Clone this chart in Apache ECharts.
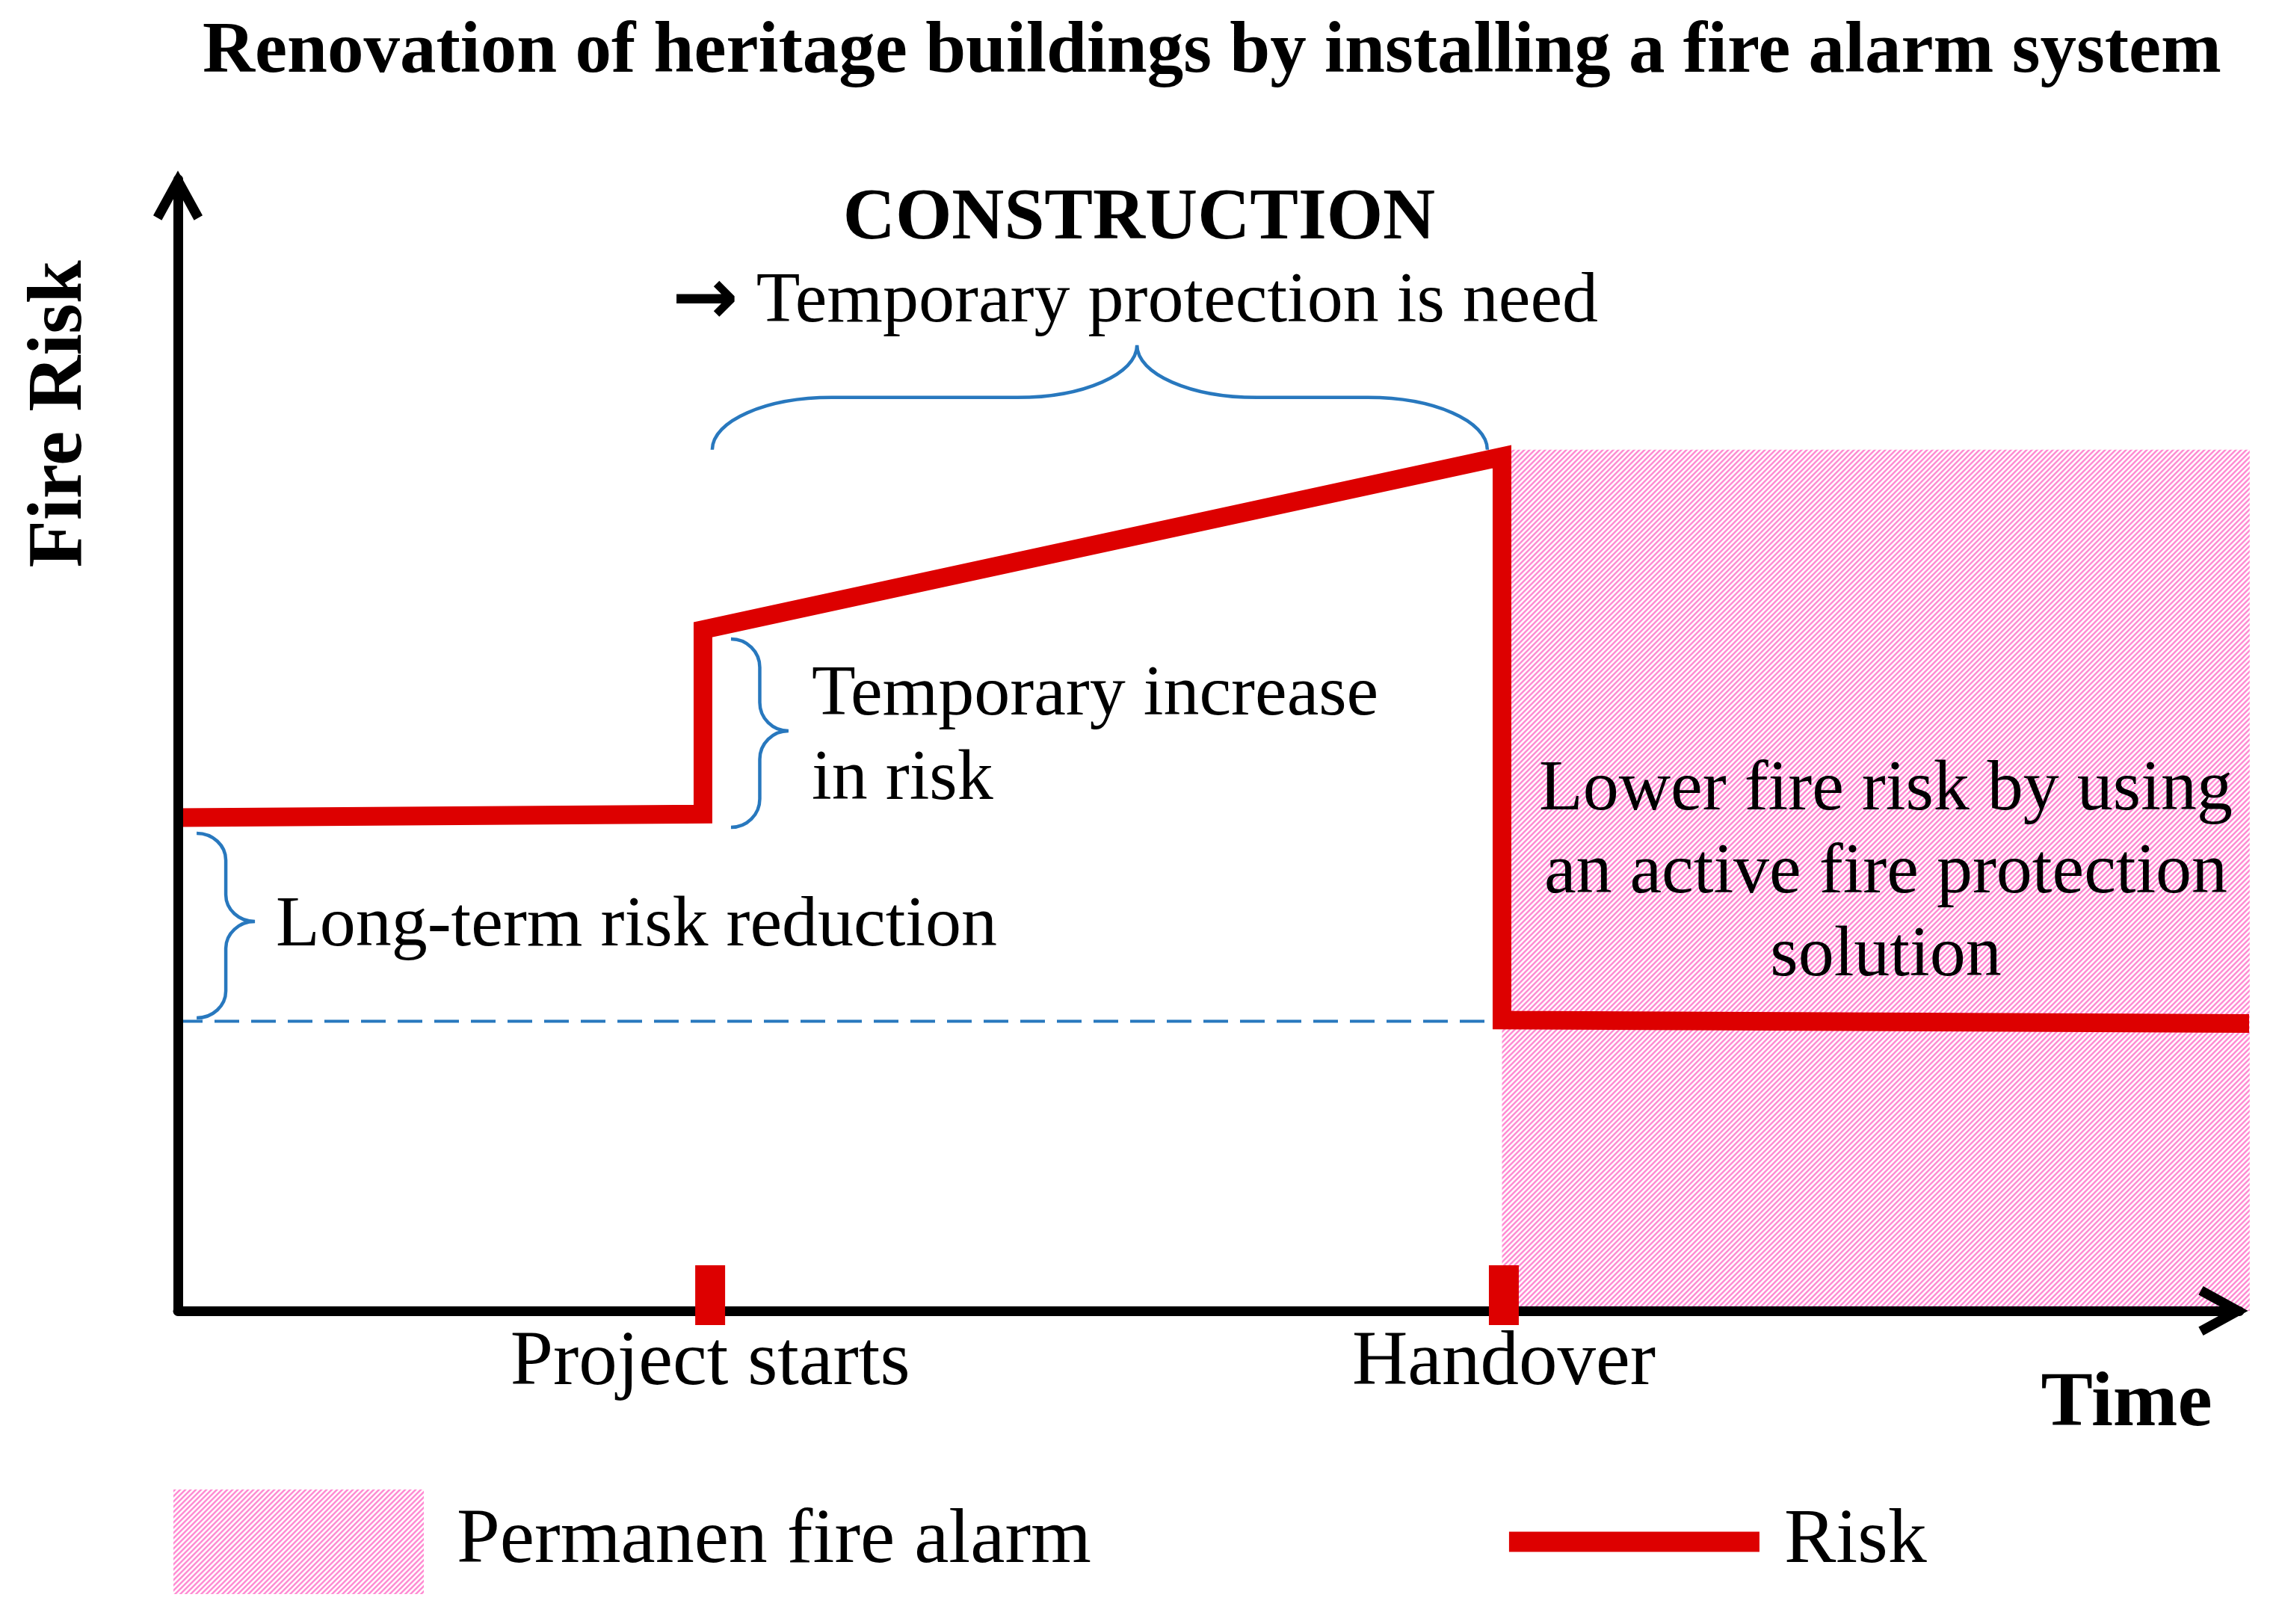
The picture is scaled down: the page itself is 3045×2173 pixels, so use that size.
<!DOCTYPE html>
<html>
<head>
<meta charset="utf-8">
<script src="https://cdn.jsdelivr.net/npm/echarts@6/dist/echarts.min.js"></script>
<style>
html,body{margin:0;padding:0;background:#ffffff;}
#chart{width:3045px;height:2173px;}
</style>
</head>
<body>
<div id="chart"></div>
<script>
// ---------------- data ----------------
const riskTime  = [0, 25.47, 25.47, 64.23, 64.23, 100.5];
const riskLevel = [43.6, 43.9, 60.2, 75.5, 25.7, 25.4];
const baselineTime  = [0, 64.23];
const baselineLevel = [25.6, 25.6];
const alarmTime  = [64.23, 100.5];
const alarmLevel = [0, 76.1];
const milestoneTime   = [25.82, 64.32];
const milestoneLabels = ['Project starts', 'Handover'];
const braceFrom  = [[25.92, 76.1], [26.83, 59.38], [0.91, 42.21]];
const braceTo    = [[63.52, 76.1], [26.83, 42.73], [0.91, 25.89]];
const braceTipAt = [0.548, 0.488, 0.478];
const seriesNames = ['Permanen fire alarm', 'Risk'];

// ---------------- style ----------------
const RED = '#DD0000';
const BLUE = '#2878BE';
const SERIF = '"Liberation Serif", "Times New Roman", serif';
const braceDepth = [140, 77, 78];
const braceRound = [160, 38, 36];
const CHEVRON = 'path://M33,0 L66,60 L54.6,66.3 L33,27 L11.4,66.3 L0,60 Z';
const LEGEND_LINE = 'path://M0,0 L0.01,0 L0,0.01 Z M0,56.5 L335,56.5 L335,83.5 L0,83.5 Z M335,140 L334.99,140 L335,139.99 Z';

function makeHatch() {
  const n = 7;
  const c = document.createElement('canvas');
  c.width = n; c.height = n;
  const ctx = c.getContext('2d');
  const img = ctx.createImageData(n, n);
  const shades = [[255,160,218],[255,135,209],[255,140,211],[255,196,234],[255,252,254],[255,252,254],[255,240,248]];
  for (let y = 0; y < n; y++) {
    for (let x = 0; x < n; x++) {
      const s = shades[(x + y) % n];
      const o = (y * n + x) * 4;
      img.data[o] = s[0]; img.data[o+1] = s[1]; img.data[o+2] = s[2]; img.data[o+3] = 255;
    }
  }
  ctx.putImageData(img, 0, 0);
  return { image: c, repeat: 'repeat' };
}
const hatch = makeHatch();

function bracePath(p1, p2, t, d, r) {
  const dx = p2[0] - p1[0], dy = p2[1] - p1[1];
  const L = Math.hypot(dx, dy);
  const ux = dx / L, uy = dy / L;
  const vx = uy, vy = -ux;
  const P = (u, v) => (p1[0] + ux * u + vx * v).toFixed(2) + ',' + (p1[1] + uy * u + vy * v).toFixed(2);
  const h = d / 2, ut = L * t, k = 0.5523;
  const C = (a, b, c) => ' C' + P(a[0], a[1]) + ' ' + P(b[0], b[1]) + ' ' + P(c[0], c[1]);
  const Lt = (a) => ' L' + P(a[0], a[1]);
  let s = 'M' + P(0, 0);
  s += C([0, h * k], [r * (1 - k), h], [r, h]);
  s += Lt([ut - r, h]);
  s += C([ut - r + r * k, h], [ut, d - h * k], [ut, d]);
  s += C([ut, d - h * k], [ut + r * (1 - k), h], [ut + r, h]);
  s += Lt([L - r, h]);
  s += C([L - r + r * k, h], [L, h * k], [L, 0]);
  return s;
}

const chart = echarts.init(document.getElementById('chart'), null, { renderer: 'canvas', width: 3045, height: 2173 });

const option = {
  backgroundColor: '#ffffff',
  animation: false,
  title: {
    text: 'Renovation of heritage buildings by installing a fire alarm system',
    left: 271, top: 22, padding: 0,
    textStyle: { fontFamily: SERIF, fontWeight: 'bold', fontSize: 97, lineHeight: 97, color: '#000' }
  },
  legend: {
    left: 232, top: 1993, padding: 0,
    itemWidth: 335, itemHeight: 140, itemGap: 559,
    selectedMode: false,
    textStyle: { fontFamily: SERIF, fontSize: 104, color: '#000' },
    data: [
      { name: seriesNames[0], icon: 'rect', itemStyle: { color: hatch }, textStyle: { padding: [24, 0, 0, 39] } },
      { name: seriesNames[1], icon: LEGEND_LINE, itemStyle: { color: RED, borderWidth: 0 }, textStyle: { padding: [24, 0, 0, 28] } }
    ]
  },
  grid: { left: 238, right: 49, top: 240, bottom: 419, containLabel: false, outerBoundsMode: 'none', show: false },
  xAxis: {
    type: 'value', min: 0, max: 100, z: 5,
    axisLine: { show: true, onZero: false, lineStyle: { color: '#000', width: 13 },
      symbol: ['none', CHEVRON], symbolSize: [66, 67], symbolOffset: [0, -21.5] },
    axisTick: { show: false },
    splitLine: { show: false },
    axisLabel: {
      show: true, customValues: milestoneTime,
      formatter: v => { const i = milestoneTime.indexOf(v); return i >= 0 ? milestoneLabels[i] : ''; },
      margin: 19, fontSize: 103, lineHeight: 103, fontFamily: SERIF, color: '#000'
    },
    name: 'Time', nameLocation: 'end', nameGap: -151,
    nameTextStyle: { fontSize: 104, lineHeight: 104, fontWeight: 'bold', fontFamily: SERIF, color: '#000',
      align: 'center', verticalAlign: 'top', padding: [74, 0, 0, 0] }
  },
  yAxis: {
    type: 'value', min: 0, max: 100, z: 5,
    axisLine: { show: true, onZero: false, lineStyle: { color: '#000', width: 13 },
      symbol: ['none', CHEVRON], symbolSize: [66, 67], symbolOffset: [0, -21.5] },
    axisTick: { show: false },
    axisLabel: { show: false },
    splitLine: { show: false },
    name: 'Fire Risk', nameLocation: 'end', nameGap: -314, nameRotate: 90,
    nameTextStyle: { fontSize: 104, lineHeight: 104, fontWeight: 'bold', fontFamily: SERIF, color: '#000',
      align: 'center', verticalAlign: 'bottom', padding: [0, 0, 105, 0] }
  },
  series: [
    {
      name: seriesNames[0], type: 'custom', z: 1, silent: true, clip: false,
      itemStyle: { color: hatch },
      encode: { x: [0, 1], y: [2, 3] },
      data: [[alarmTime[0], alarmTime[1], alarmLevel[0], alarmLevel[1]]],
      renderItem: function (params, api) {
        const a = api.coord([api.value(0), api.value(3)]);
        const b = api.coord([api.value(1), api.value(2)]);
        return { type: 'rect', shape: { x: a[0], y: a[1], width: b[0] - a[0], height: b[1] - a[1] },
          style: { fill: hatch } };
      }
    },
    {
      name: 'baseline', type: 'line', z: 3, silent: true, symbol: 'none',
      data: baselineTime.map((t, i) => [t, baselineLevel[i]]),
      lineStyle: { color: BLUE, width: 4, type: [33, 16] }
    },
    {
      name: seriesNames[1], type: 'line', z: 4, silent: true, symbol: 'none', clip: false,
      data: riskTime.map((t, i) => [t, riskLevel[i]]),
      itemStyle: { color: RED },
      lineStyle: { color: RED, width: 25, join: 'miter', cap: 'butt' }
    },
    {
      name: 'milestones', type: 'scatter', z: 6, silent: true, clip: false,
      symbol: 'rect', symbolSize: [40, 80], symbolOffset: [0, -21],
      itemStyle: { color: RED, opacity: 1 },
      data: milestoneTime.map(t => [t, 0])
    },
    {
      name: 'braces', type: 'custom', z: 3, silent: true, clip: false,
      encode: { x: [0, 2], y: [1, 3] },
      data: braceFrom.map((f, i) => [f[0], f[1], braceTo[i][0], braceTo[i][1], braceTipAt[i]]),
      renderItem: function (params, api) {
        const i = params.dataIndex;
        const p1 = api.coord([api.value(0), api.value(1)]);
        const p2 = api.coord([api.value(2), api.value(3)]);
        return { type: 'path',
          shape: { pathData: bracePath(p1, p2, api.value(4), braceDepth[i], braceRound[i]) },
          style: { fill: 'none', stroke: BLUE, lineWidth: 4.5 } };
      }
    }
  ],
  graphic: [
    { type: 'text', z: 10, silent: true, style: { text: 'CONSTRUCTION', x: 1524, y: 294, align: 'center', verticalAlign: 'middle',
      fontFamily: SERIF, fontWeight: 'bold', fontSize: 97, fill: '#000' } },
    { type: 'text', z: 10, silent: true, style: { text: '{a|\u2192} Temporary protection is need', x: 899, y: 405, align: 'left', verticalAlign: 'middle',
      fontFamily: SERIF, fontSize: 96, fill: '#000',
      rich: { a: { fontFamily: '"DejaVu Sans", sans-serif', fontWeight: 'bold', fontSize: 106, fill: '#000' } } } },
    { type: 'text', z: 10, silent: true, style: { text: 'Temporary increase\nin risk', x: 1086, y: 987, align: 'left', verticalAlign: 'middle',
      fontFamily: SERIF, fontSize: 96, lineHeight: 113, fill: '#000' } },
    { type: 'text', z: 10, silent: true, style: { text: 'Long-term risk reduction', x: 369, y: 1240, align: 'left', verticalAlign: 'middle',
      fontFamily: SERIF, fontSize: 96, fill: '#000' } },
    { type: 'text', z: 10, silent: true, style: { text: 'Lower fire risk by using\nan active fire protection\nsolution', x: 2523, y: 1169, align: 'center', verticalAlign: 'middle',
      fontFamily: SERIF, fontSize: 96, lineHeight: 111, fill: '#000' } }
  ]
};
chart.setOption(option);
</script>
</body>
</html>
